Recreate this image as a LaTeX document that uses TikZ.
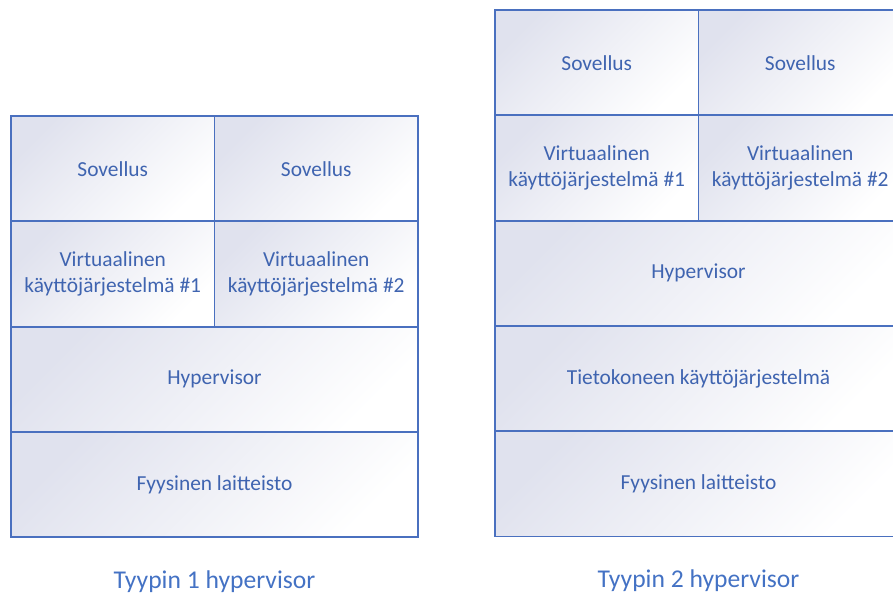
\documentclass[tikz,border=0pt]{standalone}
\usepackage{fontspec}
\setmainfont{Carlito}
\usetikzlibrary{positioning}

\definecolor{boxline}{HTML}{4A70BF}
\definecolor{boxtext}{HTML}{3F64B0}
\definecolor{shadetl}{HTML}{E0E2EE}
\definecolor{captext}{HTML}{4472C4}

\begin{document}
\begin{tikzpicture}[
    x=0.5pt, y=0.5pt,
    node distance=0pt,
    % --- styles ---
    % cell of a layer stack
    cell/.style={draw=boxline, line width=0.9pt, outer sep=0pt, inner sep=2pt,
        align=center, text=boxtext, font=\fontsize{10.7}{13}\selectfont,
        top color=shadetl, middle color=white, bottom color=white, shading angle=45,
        minimum height=52.65pt},
    % half width cell
    half/.style={cell, minimum width=101.75pt},
    % full width cell
    full/.style={cell, minimum width=203.5pt},
    % caption under a stack
    caption/.style={font=\fontsize{12.8}{15}\selectfont, text=captext, inner sep=0pt,
        text height=9pt, text depth=3pt}
]
\useasboundingbox (0,0) rectangle (893,-596);
\clip (0,0) rectangle (893,-596);

% --- 1. Type 1 stack ---
\node[half, anchor=north west] (app1a) at (11,-116) {Sovellus};
\node[half, right=of app1a] (app1b) {Sovellus};
\node[half, below=of app1a] (vm1a) {Virtuaalinen\\käyttöjärjestelmä \#1};
\node[half, below=of app1b] (vm1b) {Virtuaalinen\\käyttöjärjestelmä \#2};
\node[full, below=of vm1a.south east] (hyp1) {Hypervisor};
\node[full, below=of hyp1] (hw1) {Fyysinen laitteisto};

\node[caption, below=16.5pt of hw1] (cap1) {Tyypin 1 hypervisor};

% --- 2. Type 2 stack ---
\node[half, anchor=north west] (app2a) at (495,-10) {Sovellus};
\node[half, right=of app2a] (app2b) {Sovellus};
\node[half, below=of app2a] (vm2a) {Virtuaalinen\\käyttöjärjestelmä \#1};
\node[half, below=of app2b] (vm2b) {Virtuaalinen\\käyttöjärjestelmä \#2};
\node[full, below=of vm2a.south east] (hyp2) {Hypervisor};
\node[full, below=of hyp2] (os2) {Tietokoneen käyttöjärjestelmä};
\node[full, below=of os2] (hw2) {Fyysinen laitteisto};

\node[caption, below=16.5pt of hw2] (cap2) {Tyypin 2 hypervisor};

\end{tikzpicture}
\end{document}
